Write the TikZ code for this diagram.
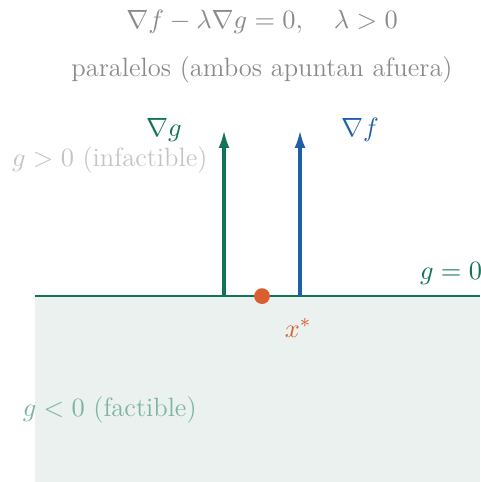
\documentclass[tikz,border=0pt]{standalone}
\usepackage{amssymb}
\usetikzlibrary{positioning, arrows.meta}
\usepackage{xcolor}

\definecolor{verde}{HTML}{10735A}
\definecolor{azul}{HTML}{1E5FA8}
\definecolor{naranja}{HTML}{D95F30}
\definecolor{gris}{HTML}{8A8A8A}
\definecolor{grisclaro}{HTML}{C4C4C4}
\definecolor{verdeclaro}{HTML}{7DB4A0}
\definecolor{fondo}{HTML}{EAF1EF}

\begin{document}
\begin{tikzpicture}[
        grad/.style={
            -{Latex[length=2.6mm, width=1.6mm]},
            line width=1.3pt
        },
        label/.style={
            font=\fontsize{11}{13}\selectfont
        }
    ]

        \useasboundingbox (-3.82,-2.71) rectangle (3.18,4.317);

        % region factible
        \fill[fondo] (-3.31,-2.71) rectangle (3.18,0);
        \draw[verde, line width=0.9pt] (-3.31,0) -- (3.18,0);

        \coordinate (pg) at (-0.554,0);
        \coordinate (pf) at (0.554,0);
        \coordinate (tg) at (-0.554,2.42);
        \coordinate (tf) at (0.554,2.42);

        \draw[grad, verde] (pg) -- (tg);
        \draw[grad, azul] (pf) -- (tf);

        \node[circle, fill=naranja, inner sep=0pt, minimum size=2.3mm] (xs) at (0,0) {};

        \node[label, text=verde] (ng) at (-1.43,2.42) {$\nabla g$};
        \node[label, text=azul] (nf) at (1.43,2.42) {$\nabla f$};
        \node[label, text=naranja] (lx) at (0.525,-0.467) {$x^*$};
        \node[label, text=verde, anchor=west] (g0) at (2.18,0.335) {$g = 0$};
        \node[label, text=grisclaro] (inf) at (-2.22,1.98) {$g > 0$ (infactible)};
        \node[label, text=verdeclaro] (fac) at (-2.22,-1.66) {$g < 0$ (factible)};

        \node[label, text=gris] (eq) at (0,4.0) {$\nabla f - \lambda \nabla g = 0, \quad \lambda > 0$};
        \node[label, text=gris] (par) at (0,3.30) {paralelos (ambos apuntan afuera)};

    \end{tikzpicture}
\end{document}
